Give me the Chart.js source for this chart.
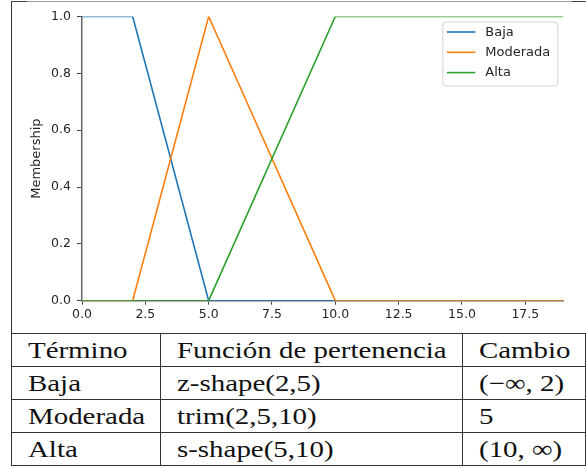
<!DOCTYPE html>
<html>
<head>
<meta charset="utf-8">
<script src="https://cdn.jsdelivr.net/npm/chart.js@4"></script>
<style>
  html, body { margin: 0; padding: 0; background: #fff; }
  body { width: 586px; height: 469px; position: relative; overflow: hidden; }
  /* page frame around the figure */
  #frame { position: absolute; left: 11px; top: 1px; width: 564px; height: 335px;
           border-left: 1px solid #333; border-top: 1px solid #999; }
  .corner { position: absolute; top: 1px; height: 1px; background: #444; }
  #chartBox { position: absolute; left: 12px; top: 3px; width: 572px; height: 330px; }
  #terms { position: absolute; left: 11px; top: 333px; border-collapse: collapse;
           font-family: "Liberation Serif", serif; font-size: 23.5px; color: #111; }
  #terms td { border: 1px solid #333; height: 33px; padding: 0 0 0 16px; vertical-align: middle;
              white-space: nowrap; box-sizing: border-box; }
  #terms td span { display: inline-block; transform: scaleX(1.23); transform-origin: left center; }
</style>
</head>
<body>
<div id="frame"></div>
<div class="corner" style="left:11px;width:16px"></div>
<div class="corner" style="left:572px;width:14px"></div>
<div id="chartBox"><canvas id="membership"></canvas></div>
<table id="terms"></table>

<script>
// Membership functions
var seriesNames = ['Baja', 'Moderada', 'Alta'];
var seriesColors = ['#1f77b4', '#ff7f0e', '#2ca02c'];
var xBaja = [0, 2, 5, 19];
var yBaja = [1, 1, 0, 0];
var xModerada = [0, 2, 5, 10, 19];
var yModerada = [0, 0, 1, 0, 0];
var xAlta = [0, 5, 10, 19];
var yAlta = [0, 0, 1, 1];

// Axis ticks
var xTicks = [0, 2.5, 5, 7.5, 10, 12.5, 15, 17.5];
var yTicks = [0, 0.2, 0.4, 0.6, 0.8, 1.0];
var xMax = 19;

// Table below the chart
var tableHeader = ['Término', 'Función de pertenencia', 'Cambio'];
var tableTerms = ['Baja', 'Moderada', 'Alta'];
var tableFunctions = ['z-shape(2,5)', 'trim(2,5,10)', 's-shape(5,10)'];
var tableChanges = ['(−∞, 2)', '5', '(10, ∞)'];

function toPoints(xs, ys) {
    return xs.map(function (x, i) { return { x: x, y: ys[i] }; });
}

Chart.defaults.font.family = 'DejaVu Sans';
Chart.defaults.color = '#262626';

// Legend in a framed box inside the plot, drawn like matplotlib's
var boxLegend = {
    id: 'boxLegend',
    afterDraw: function (chart) {
        var ctx = chart.ctx;
        var area = chart.chartArea;
        var sets = chart.data.datasets;
        ctx.save();
        ctx.font = '13px "DejaVu Sans"';
        var maxW = 0;
        sets.forEach(function (ds) { maxW = Math.max(maxW, ctx.measureText(ds.label).width); });
        var w = 43 + maxW + 7;
        var h = 64;
        var left = area.right - 6 - w;
        var top = area.top + 5;

        ctx.beginPath();
        ctx.roundRect(left + 0.5, top + 0.5, w, h, 3);
        ctx.fillStyle = 'rgba(255,255,255,0.8)';
        ctx.fill();
        ctx.strokeStyle = '#d4d4d4';
        ctx.lineWidth = 1;
        ctx.stroke();

        sets.forEach(function (ds, i) {
            var y = top + 10.5 + i * 20.3;
            ctx.beginPath();
            ctx.moveTo(left + 4.5, y);
            ctx.lineTo(left + 33, y);
            ctx.strokeStyle = ds.borderColor;
            ctx.lineWidth = 1.6;
            ctx.stroke();
            ctx.fillStyle = '#262626';
            ctx.textBaseline = 'middle';
            ctx.fillText(ds.label, left + 43, y + 0.5);
        });
        ctx.restore();
    }
};

var chart = new Chart(document.getElementById('membership'), {
    type: 'scatter',
    data: {
        datasets: [
            { label: seriesNames[0], data: toPoints(xBaja, yBaja), order: 2 },
            { label: seriesNames[1], data: toPoints(xModerada, yModerada), order: 1 },
            { label: seriesNames[2], data: toPoints(xAlta, yAlta), order: 0 }
        ].map(function (ds, i) {
            ds.showLine = true;
            ds.borderColor = seriesColors[i];
            ds.backgroundColor = seriesColors[i];
            ds.borderWidth = 1.6;
            ds.pointRadius = 0;
            ds.tension = 0;
            return ds;
        })
    },
    options: {
        responsive: true,
        maintainAspectRatio: false,
        animation: false,
        layout: { padding: { top: 7.5, right: 20.7, left: 0, bottom: 0 } },
        plugins: {
            legend: { display: false },
            tooltip: { enabled: false }
        },
        scales: {
            x: {
                type: 'linear',
                min: 0,
                max: xMax,
                afterBuildTicks: function (scale) {
                    scale.ticks = xTicks.map(function (v) { return { value: v }; });
                },
                afterFit: function (scale) { scale.height = 32.3; },
                ticks: {
                    font: { size: 12.5 },
                    padding: 3,
                    maxRotation: 0,
                    callback: function (v) { return Number(v).toFixed(1); }
                },
                grid: { drawOnChartArea: false, drawTicks: true, tickLength: 4, tickColor: '#444', tickWidth: 1 },
                border: { display: true, color: '#666', width: 1.5 }
            },
            y: {
                type: 'linear',
                min: 0,
                max: 1,
                afterBuildTicks: function (scale) {
                    scale.ticks = yTicks.map(function (v) { return { value: v }; });
                },
                afterFit: function (scale) { scale.width = 70; },
                ticks: {
                    font: { size: 12.5 },
                    padding: 6,
                    callback: function (v) { return Number(v).toFixed(1); }
                },
                title: {
                    display: true,
                    text: 'Membership',
                    font: { size: 13 },
                    color: '#262626',
                    padding: { top: 17, bottom: 0 }
                },
                grid: { drawOnChartArea: false, drawTicks: true, tickLength: 5, tickColor: '#444', tickWidth: 1 },
                border: { display: true, color: '#666', width: 1.5 }
            }
        }
    },
    plugins: [boxLegend]
});

// Build the table of terms
var table = document.getElementById('terms');
var colWidths = [149, 302, 123];
function addRow(cells) {
    var tr = document.createElement('tr');
    cells.forEach(function (txt, i) {
        var td = document.createElement('td');
        td.style.width = colWidths[i] + 'px';
        var span = document.createElement('span');
        span.textContent = txt;
        td.appendChild(span);
        tr.appendChild(td);
    });
    table.appendChild(tr);
}
addRow(tableHeader);
tableTerms.forEach(function (t, i) {
    addRow([t, tableFunctions[i], tableChanges[i]]);
});
</script>
</body>
</html>
